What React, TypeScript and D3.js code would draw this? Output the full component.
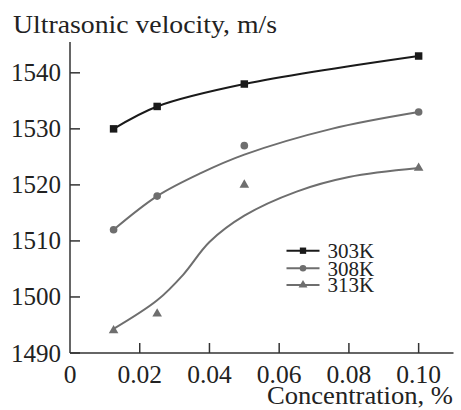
import * as d3 from 'd3'

const conc = [0.0125, 0.025, 0.05, 0.1]
const v303 = [1530, 1534, 1538, 1543]
const v308 = [1512, 1518, 1527, 1533]
const v313 = [1494, 1497, 1520, 1523]
// fitted curves
const fit308X = [0.0125, 0.025, 0.0375, 0.05, 0.075, 0.1]
const fit308Y = [1512, 1518, 1522.1, 1525.4, 1530, 1533]
const fit313X = [0.0125, 0.025, 0.0325, 0.04, 0.05, 0.065, 0.08, 0.1]
const fit313Y = [1494.3, 1499.4, 1504, 1509.8, 1514.5, 1518.8, 1521.4, 1523]
const xTicks = [0, 0.02, 0.04, 0.06, 0.08, 0.1]
const xTickLabels = ['0', '0.02', '0.04', '0.06', '0.08', '0.10']
const yTicks = [1490, 1500, 1510, 1520, 1530, 1540]
const seriesNames = ['303K', '308K', '313K']

const FONT = 'Liberation Serif'
const AXIS = '#333'
const BLACK = '#1a1a1a', GRAY = '#6e6e6e'

export default function App() {
  const W = 461, H = 410
  const x = d3.scaleLinear().domain([0, 0.11]).range([70, 453.5])
  const y = d3.scaleLinear().domain([1490, 1545.5]).range([353, 42])
  const line = d3.line<[number, number]>().x(d => x(d[0])).y(d => y(d[1])).curve(d3.curveCatmullRom.alpha(0.5))
  const zip = (xs: number[], ys: number[]) => xs.map((v, i) => [v, ys[i]] as [number, number])
  const curves = [
    { d: line(zip(conc, v303)), c: BLACK },
    { d: line(zip(fit308X, fit308Y)), c: GRAY },
    { d: line(zip(fit313X, fit313Y)), c: GRAY },
  ]
  const marks = [
    { vals: v303, d: d3.symbol().type(d3.symbolSquare).size(56)(), c: BLACK },
    { vals: v308, d: d3.symbol().type(d3.symbolCircle).size(46)(), c: GRAY },
    { vals: v313, d: d3.symbol().type(d3.symbolTriangle).size(40)(), c: GRAY },
  ]
  const legY = [250.7, 268.3, 285]
  const legend = [
    { d: d3.symbol().type(d3.symbolSquare).size(40)(), c: BLACK },
    { d: d3.symbol().type(d3.symbolCircle).size(34)(), c: GRAY },
    { d: d3.symbol().type(d3.symbolTriangle).size(34)(), c: GRAY },
  ]
  const txt = { fontFamily: FONT, fill: '#222' }
  return (
    <svg width={W} height={H} style={{ position: 'absolute', left: 0, top: 0 }}>
      <rect width={W} height={H} fill="#fff" />
      <line x1={x(0)} x2={x(0)} y1={y(1545.5)} y2={y(1490)} stroke={AXIS} strokeWidth={1.5} />
      <line x1={x(0)} x2={x(0.11)} y1={y(1490)} y2={y(1490)} stroke={AXIS} strokeWidth={1.5} />
      {yTicks.map(t => (
        <g key={t}>
          <line x1={x(0)} x2={x(0) + 10} y1={y(t)} y2={y(t)} stroke={AXIS} strokeWidth={1.5} />
          <text x={61} y={y(t)} dy="0.34em" textAnchor="end" fontSize={25} {...txt}>{t}</text>
        </g>
      ))}
      {xTicks.map((t, i) => (
        <g key={t}>
          {t > 0 && <line x1={x(t)} x2={x(t)} y1={y(1490)} y2={y(1490) - 10} stroke={AXIS} strokeWidth={1.5} />}
          <text x={x(t)} y={383} textAnchor="middle" fontSize={25.5} {...txt}>{xTickLabels[i]}</text>
        </g>
      ))}
      <text x={13} y={33} fontSize={25.5} textLength={264} lengthAdjust="spacingAndGlyphs" {...txt}>Ultrasonic velocity, m/s</text>
      <text x={267} y={404} fontSize={24.5} textLength={186} lengthAdjust="spacingAndGlyphs" {...txt}>Concentration, %</text>
      {curves.map((c, i) => (
        <path key={i} d={c.d ?? ''} fill="none" stroke={c.c} strokeWidth={2} />
      ))}
      {marks.map((m, i) => m.vals.map((v, j) => (
        <path key={`${i}-${j}`} d={m.d ?? ''} fill={m.c} transform={`translate(${x(conc[j])},${y(v)})`} />
      )))}
      {seriesNames.map((n, i) => (
        <g key={n}>
          <line x1={286.5} x2={319.5} y1={legY[i]} y2={legY[i]} stroke={legend[i].c} strokeWidth={2} />
          <path d={legend[i].d ?? ''} fill={legend[i].c} transform={`translate(303,${legY[i]})`} />
          <text x={327.5} y={legY[i]} dy="0.35em" fontSize={21} {...txt}>{n}</text>
        </g>
      ))}
    </svg>
  )
}
